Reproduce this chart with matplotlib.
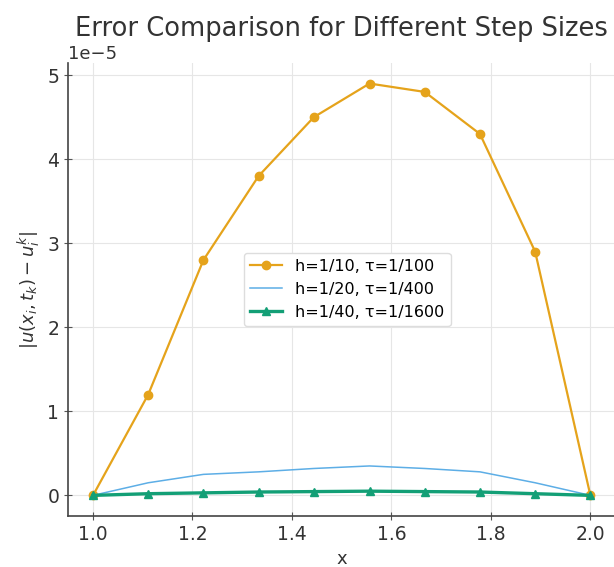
import numpy as np
import matplotlib
matplotlib.use("Agg")
import matplotlib.pyplot as plt

# --- data ---
x_nodes = [1.0, 1.111, 1.222, 1.333, 1.444, 1.556, 1.667, 1.778, 1.889, 2.0]
err_h10 = [0.0, 1.2, 2.8, 3.8, 4.5, 4.9, 4.8, 4.3, 2.9, 0.0]          # x1e-5
err_h20 = [0.0, 0.15, 0.25, 0.28, 0.32, 0.35, 0.32, 0.28, 0.15, 0.0]  # x1e-5
err_h40 = [0.0, 0.02, 0.03, 0.04, 0.045, 0.05, 0.045, 0.04, 0.02, 0.0]  # x1e-5
labels = ['h=1/10, τ=1/100', 'h=1/20, τ=1/400', 'h=1/40, τ=1/1600']

scale = 1e-5

# --- figure ---
fig = plt.figure(figsize=(6.14, 5.67), dpi=100)
ax = fig.add_axes([0.111, 0.09, 0.891, 0.799])

ax.plot(x_nodes, np.array(err_h10) * scale, color='#E5A31B', marker='o',
        markersize=6, linewidth=1.6, label=labels[0])
ax.plot(x_nodes, np.array(err_h20) * scale, color='#5DAEE6',
        linewidth=1.1, label=labels[1])
ax.plot(x_nodes, np.array(err_h40) * scale, color='#139F76', marker='^',
        markersize=6, linewidth=2.4, label=labels[2])

ax.set_title('Error Comparison for Different Step Sizes', fontsize=18.5,
             color='#333333', pad=6)
ax.set_xlabel('x', fontsize=13, color='#333333')
ax.set_ylabel(r'$|u(x_i, t_k) - u_i^k|$', fontsize=13, color='#333333')

ax.set_xticks([1.0, 1.2, 1.4, 1.6, 1.8, 2.0])
ax.tick_params(axis='both', labelsize=13.5, labelcolor='#333333',
               direction='inout', length=6, color='#555555')
ax.yaxis.get_offset_text().set_fontsize(13)
ax.yaxis.get_offset_text().set_color('#333333')

ax.grid(True, color='#e6e6e6', linewidth=0.8)
ax.set_axisbelow(True)
for side in ['top', 'right']:
    ax.spines[side].set_visible(False)
for side in ['left', 'bottom']:
    ax.spines[side].set_color('#444444')
    ax.spines[side].set_linewidth(1.2)

ax.legend(loc='center', bbox_to_anchor=(0.51, 0.5), fontsize=11.5,
          frameon=True, framealpha=1.0, edgecolor='#dddddd')

fig.savefig('out.png', dpi=100)
